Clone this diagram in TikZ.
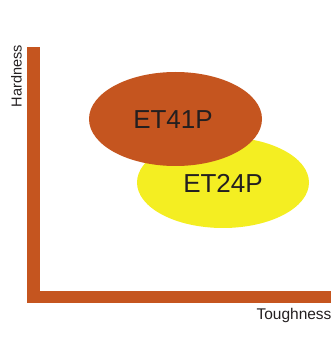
\documentclass[tikz,border=0pt]{standalone}
\usepackage{fontspec}
\setmainfont{Liberation Sans}
\usepackage{tikz}
\usetikzlibrary{shapes.geometric}
\definecolor{rust}{RGB}{197,85,31}
\definecolor{lemon}{RGB}{244,238,34}
\definecolor{ink}{RGB}{35,31,32}

\begin{document}
\begin{tikzpicture}[x=1pt,y=1pt]
                 \useasboundingbox (0,0) rectangle (334,338);
                 \fill[rust] (27,35) rectangle (40,291);
                 \fill[rust] (27,35) rectangle (331,47);
                 \node[ellipse,fill=lemon,minimum width=172pt,minimum height=91pt,inner sep=0pt](soft)at(223,155.5){};
                 \node[ellipse,fill=rust,minimum width=173pt,minimum height=94pt,inner sep=0pt](hard)at(175.5,219){};
                 \node[text=ink,inner sep=0pt,font=\fontsize{26}{26}\selectfont](et41)at(173,218){ET41P};
                 \node[text=ink,inner sep=0pt,font=\fontsize{26}{26}\selectfont](et24)at(223,155){ET24P};
                 \node[text=ink,inner sep=0pt,rotate=90,font=\fontsize{14.5}{14.5}\selectfont](ylab)at(16.5,262){Hardness};
                 \node[text=ink,inner sep=0pt,font=\fontsize{15.5}{15.5}\selectfont](xlab)at(294,23){Toughness};
               \end{tikzpicture}
\end{document}
